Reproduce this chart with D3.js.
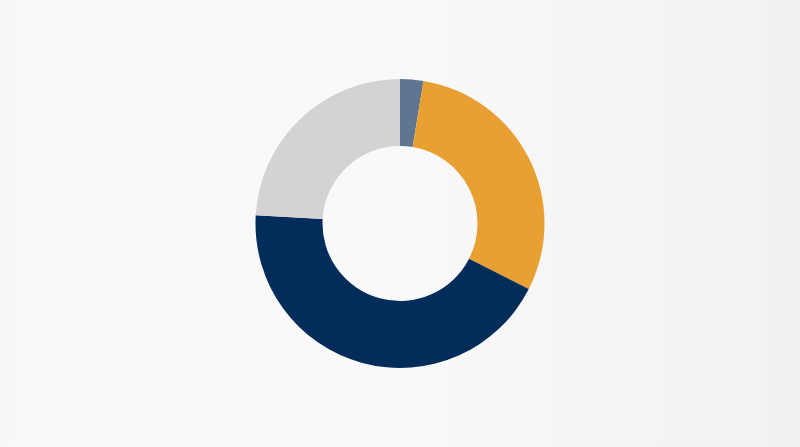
<!DOCTYPE html>
<html>
<head>
<meta charset="utf-8">
<script src="https://cdn.jsdelivr.net/npm/d3@7"></script>
<style>
  html, body { margin: 0; padding: 0; background: #f8f8f8; }
  svg { display: block; }
</style>
</head>
<body>
<svg width="800" height="447"></svg>
<script>
// slice data, clockwise from 12 o'clock
const categories = ['A', 'B', 'C', 'D'];
const values = [2.6, 29.9, 43.4, 24.1];
const colors = ['#5f7590', '#e8a033', '#022c5a', '#d3d3d6'];

const width = 800;
const height = 447;
const cx = 400, cy = 223.5;
const outerR = 144.5, innerR = 77.5;

const svg = d3.select('svg');

// soft background, a touch darker on the right
const defs = svg.append('defs');
const grad = defs.append('linearGradient')
  .attr('id', 'bg')
  .attr('x1', '0%').attr('x2', '100%');
grad.append('stop').attr('offset', '0%').attr('stop-color', '#f8f8f8');
grad.append('stop').attr('offset', '50%').attr('stop-color', '#f9f9f9');
grad.append('stop').attr('offset', '100%').attr('stop-color', '#f1f1f1');

svg.append('rect')
  .attr('width', width)
  .attr('height', height)
  .attr('fill', 'url(#bg)');

const data = categories.map((c, i) => ({ name: c, value: values[i], color: colors[i] }));

const pie = d3.pie()
  .value(d => d.value)
  .sort(null);

const arc = d3.arc()
  .innerRadius(innerR)
  .outerRadius(outerR);

const g = svg.append('g')
  .attr('transform', `translate(${cx},${cy})`);

g.selectAll('path')
  .data(pie(data))
  .join('path')
  .attr('d', arc)
  .attr('fill', d => d.data.color);
</script>
</body>
</html>
